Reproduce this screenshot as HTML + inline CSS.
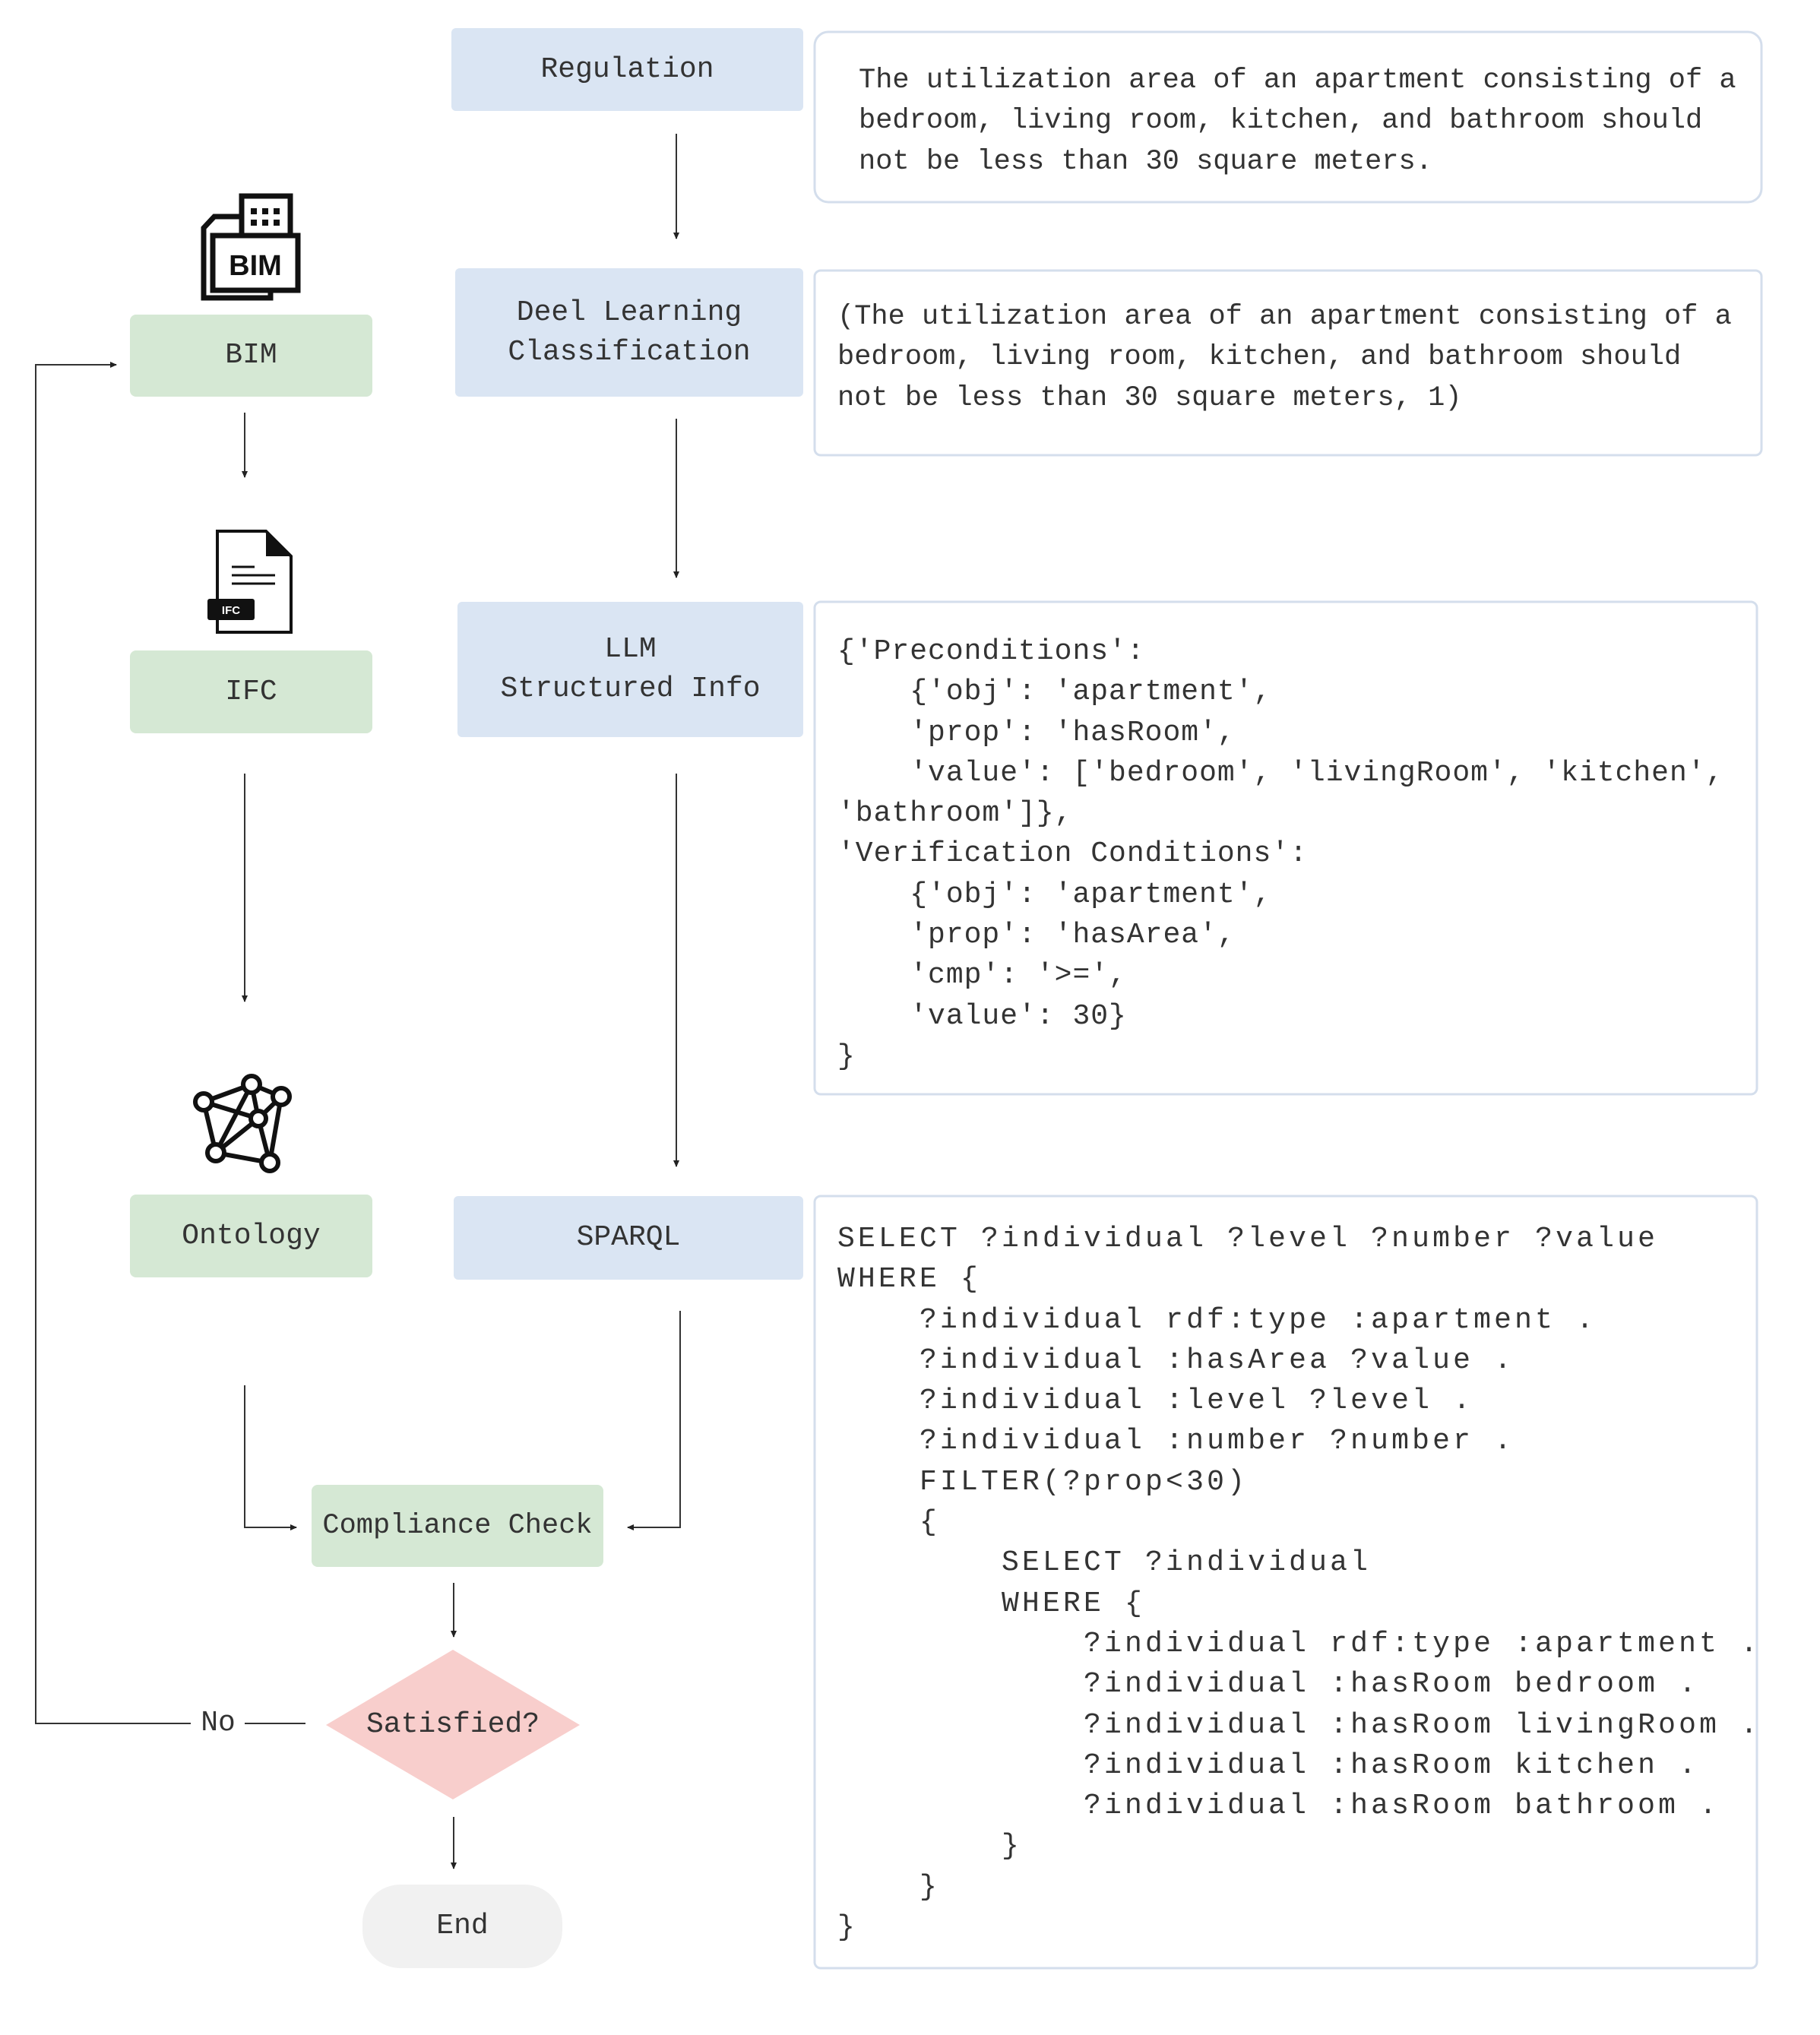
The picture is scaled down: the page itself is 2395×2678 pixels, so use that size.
<!DOCTYPE html>
<html><head><meta charset="utf-8"><style>
html,body{margin:0;padding:0;background:#fff}
body{width:2395px;height:2678px;position:relative;overflow:hidden;font-family:"Liberation Mono","Noto Serif CJK SC",monospace;color:#333}
.t{position:absolute;white-space:pre;font-size:38px;line-height:53.3px}
.lab{position:absolute;display:flex;align-items:center;justify-content:center;text-align:center;font-size:38px;line-height:52px;color:#333;white-space:pre}
</style></head><body>
<svg width="2395" height="2678" style="position:absolute;left:0;top:0">
<defs><marker id="a" markerWidth="10" markerHeight="10" refX="8" refY="5" orient="auto" markerUnits="userSpaceOnUse"><path d="M0,1 L9,5 L0,9 z" fill="#222"/></marker></defs>
<g fill="#dae5f3">
<rect x="594" y="37" width="463" height="109" rx="6"/>
<rect x="599" y="353" width="458" height="169" rx="6"/>
<rect x="602" y="792" width="455" height="178" rx="6"/>
<rect x="597" y="1574" width="460" height="110" rx="6"/>
</g>
<g fill="#d5e8d4">
<rect x="171" y="414" width="319" height="108" rx="8"/>
<rect x="171" y="856" width="319" height="109" rx="8"/>
<rect x="171" y="1572" width="319" height="109" rx="8"/>
<rect x="410" y="1954" width="384" height="108" rx="8"/>
</g>
<polygon points="596,2171 763,2270 596,2368 429,2270" fill="#f8cecc"/>
<rect x="477" y="2480" width="263" height="110" rx="50" fill="#f1f1f1"/>
<g fill="none" stroke="#d4deec" stroke-width="3">
<rect x="1072" y="42" width="1246" height="224" rx="18"/>
<rect x="1072" y="356" width="1246" height="243" rx="8"/>
<rect x="1072" y="792" width="1240" height="648" rx="8"/>
<rect x="1072" y="1574" width="1240" height="1016" rx="8"/>
</g>
<g stroke="#333" stroke-width="2" fill="none">
<line x1="890" y1="176" x2="890" y2="314" marker-end="url(#a)"/>
<line x1="890" y1="551" x2="890" y2="760" marker-end="url(#a)"/>
<line x1="890" y1="1018" x2="890" y2="1535" marker-end="url(#a)"/>
<line x1="322" y1="543" x2="322" y2="628" marker-end="url(#a)"/>
<line x1="322" y1="1018" x2="322" y2="1318" marker-end="url(#a)"/>
<polyline points="322,1823 322,2010 390,2010" marker-end="url(#a)"/>
<polyline points="895,1725 895,2010 826,2010" marker-end="url(#a)"/>
<line x1="597" y1="2083" x2="597" y2="2154" marker-end="url(#a)"/>
<line x1="597" y1="2391" x2="597" y2="2459" marker-end="url(#a)"/>
<line x1="402" y1="2268" x2="322" y2="2268"/>
<polyline points="251,2268 47,2268 47,480 153,480" marker-end="url(#a)"/>
</g>
<g stroke="#111" stroke-width="7" fill="none">
<rect x="318" y="258" width="64" height="62" fill="#fff"/>
<path d="M318,285 L282,285 L268,300 L268,392 L356,392 L356,370"/>
<rect x="280" y="310" width="112" height="72" fill="#fff"/>
</g>
<g fill="#111">
<rect x="330" y="274" width="8" height="8"/><rect x="345" y="274" width="8" height="8"/><rect x="360" y="274" width="8" height="8"/>
<rect x="330" y="289" width="8" height="8"/><rect x="345" y="289" width="8" height="8"/><rect x="360" y="289" width="8" height="8"/>
</g>
<text x="336" y="362" font-family="Liberation Sans" font-weight="bold" font-size="38" text-anchor="middle" fill="#111">BIM</text>
<path d="M286,699 L350,699 L383,732 L383,832 L286,832 Z" fill="#fff" stroke="#111" stroke-width="4"/>
<path d="M350,699 L383,732 L350,732 Z" fill="#111"/>
<g stroke="#111" stroke-width="3"><line x1="305" y1="746" x2="335" y2="746"/><line x1="305" y1="757" x2="362" y2="757"/><line x1="305" y1="768" x2="362" y2="768"/></g>
<rect x="273" y="788" width="62" height="28" rx="3" fill="#111"/>
<text x="304" y="808" font-family="Liberation Sans" font-size="15" font-weight="bold" fill="#fff" text-anchor="middle">IFC</text>
<g stroke="#111" stroke-width="6" fill="none">
<path d="M331,1427 L370,1443 L355,1530 L284,1517 L268,1450 Z"/>
<path d="M331,1427 L340,1472 L370,1443 M268,1450 L340,1472 L355,1530 M340,1472 L284,1517 M331,1427 L284,1517"/>
</g>
<g fill="#fff" stroke="#111" stroke-width="6">
<circle cx="331" cy="1427" r="11"/><circle cx="370" cy="1443" r="11"/><circle cx="355" cy="1530" r="11"/><circle cx="284" cy="1517" r="11"/><circle cx="268" cy="1450" r="11"/><circle cx="340" cy="1472" r="10"/>
</g>
</svg>
<div class="lab" style="left:594px;top:37px;width:463px;height:109px">Regulation</div>
<div class="lab" style="left:599px;top:353px;width:458px;height:169px">Deel Learning
Classification</div>
<div class="lab" style="left:602px;top:792px;width:455px;height:178px">LLM
Structured Info</div>
<div class="lab" style="left:597px;top:1574px;width:460px;height:110px">SPARQL</div>
<div class="lab" style="left:171px;top:414px;width:319px;height:108px">BIM</div>
<div class="lab" style="left:171px;top:856px;width:319px;height:109px">IFC</div>
<div class="lab" style="left:171px;top:1572px;width:319px;height:109px">Ontology</div>
<div class="lab" style="left:410px;top:1954px;width:384px;height:108px;font-size:37px">Compliance Check</div>
<div class="lab" style="left:429px;top:2171px;width:334px;height:197px">Satisfied?</div>
<div class="lab" style="left:477px;top:2480px;width:263px;height:110px">End</div>
<div class="lab" style="left:251px;top:2242px;width:72px;height:52px">No</div>
<div class="t" style="left:1130px;top:80px;font-size:37px">The utilization area of an apartment consisting of a
bedroom, living room, kitchen, and bathroom should
not be less than 30 square meters.</div>
<div class="t" style="left:1102px;top:391px;font-size:37px">(The utilization area of an apartment consisting of a
bedroom, living room, kitchen, and bathroom should
not be less than 30 square meters, 1)</div>
<div class="t" style="left:1102px;top:831px;font-size:38px;letter-spacing:1px">{'Preconditions':
    {'obj': 'apartment',
    'prop': 'hasRoom',
    'value': ['bedroom', 'livingRoom', 'kitchen',
'bathroom']},
'Verification Conditions':
    {'obj': 'apartment',
    'prop': 'hasArea',
    'cmp': '>=',
    'value': 30}
}</div>
<div class="t" style="left:1102px;top:1604px;font-size:38px;letter-spacing:4.2px">SELECT ?individual ?level ?number ?value
WHERE {
    ?individual rdf:type :apartment .
    ?individual :hasArea ?value .
    ?individual :level ?level .
    ?individual :number ?number .
    FILTER(?prop&lt;30)
    {
        SELECT ?individual
        WHERE {
            ?individual rdf:type :apartment .
            ?individual :hasRoom bedroom .
            ?individual :hasRoom livingRoom .
            ?individual :hasRoom kitchen .
            ?individual :hasRoom bathroom .
        }
    }
}</div>
</body></html>
